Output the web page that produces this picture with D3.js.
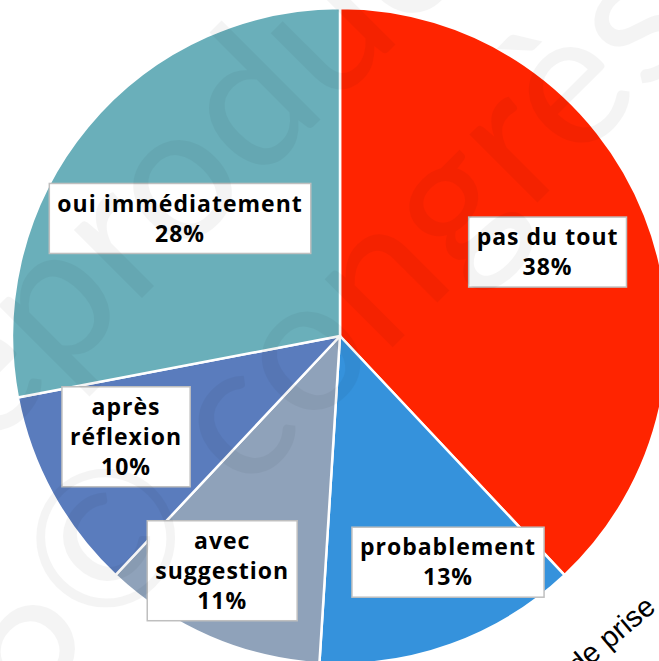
<!DOCTYPE html>
<html>
<head>
<meta charset="utf-8">
<script src="https://cdn.jsdelivr.net/npm/d3@7"></script>
<style>
html,body{margin:0;padding:0;background:#fff;overflow:hidden}
</style>
</head>
<body>
<script>
// data
var categories=["pas du tout","probablement","avec suggestion","après réflexion","oui immédiatement"];
var labelLines=[["pas du tout"],["probablement"],["avec","suggestion"],["après","réflexion"],["oui immédiatement"]];
var values=[38,13,11,10,28];
var colors=["#ff2400","#3592dc","#8fa2ba","#5a7cbd","#6aafba"];

var W=659,H=661,cx=340,cy=336,R=328;
// label nudges from 0.72R centroid (layout only)
var nudge=[[-12,3],[28,4],[-24,18],[-7,-13],[22,33]];

var svg=d3.select("body").append("svg")
.attr("width",W)
.attr("height",H);

var data=categories.map(function(c,i){return {cat:c,val:values[i],lines:labelLines[i],color:colors[i],i:i};});

var pie=d3.pie().sort(null).value(function(d){return d.val;});
var arc=d3.arc().innerRadius(0).outerRadius(R);
var arcs=pie(data);

var g=svg.append("g").attr("transform","translate("+cx+","+cy+")");

g.selectAll("path.slice").data(arcs).enter().append("path")
.attr("class","slice")
.attr("d",arc)
.attr("fill",function(d){return d.data.color;})
.attr("stroke","#fff")
.attr("stroke-width",2.5)
.attr("stroke-linejoin","round");

// faint watermark
var wm=svg.append("g").attr("fill","#000").attr("opacity",0.04)
.attr("font-family","Lato, sans-serif").attr("font-size",190);
wm.append("text").attr("transform","translate(-60,500) rotate(-45)").text("reproduction");
wm.append("text").attr("transform","translate(20,720) rotate(-45)").text("6© congrès");

// labels
var lab=g.selectAll("g.lab").data(arcs).enter().append("g").attr("class","lab")
.attr("transform",function(d){
	var a=(d.startAngle+d.endAngle)/2,r=R*0.72;
	var n=nudge[d.data.i];
	return "translate("+(Math.sin(a)*r+n[0])+","+(-Math.cos(a)*r+n[1])+")";
});

var lh=30;
lab.each(function(d){
	var el=d3.select(this);
	var rect=el.append("rect").attr("fill","#fff").attr("stroke","#bfbfbf").attr("stroke-width",1.5);
	var lines=d.data.lines.concat([d.data.val+"%"]);
	var t=el.append("text").attr("text-anchor","middle")
	.attr("font-family","'Open Sans', sans-serif").attr("font-weight","bold")
	.attr("font-size",23).attr("letter-spacing",1).attr("fill","#000");
	var y0=-(lines.length-1)*lh/2;
	lines.forEach(function(s,k){
		t.append("tspan").attr("x",0).attr("y",y0+k*lh).attr("dy","0.35em").text(s);
	});
	var bb=t.node().getBBox();
	var padx=8,h=lines.length*lh+10;
	rect.attr("x",-bb.width/2-padx).attr("y",-h/2).attr("width",bb.width+2*padx).attr("height",h);
});

// cut caption at the corner
svg.append("text")
.attr("transform","translate(578,676) rotate(-40)")
.attr("font-family","'Liberation Sans', Arial, sans-serif")
.attr("font-size",29).attr("fill","#000")
.text("de prise");
</script>
</body>
</html>
